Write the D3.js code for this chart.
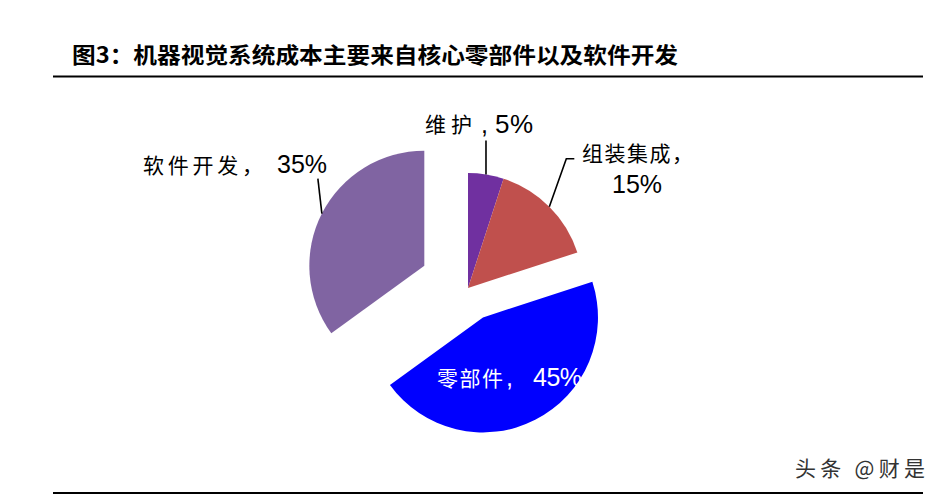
<!DOCTYPE html>
<html><head><meta charset="utf-8">
<script src="https://cdn.jsdelivr.net/npm/d3@7/dist/d3.min.js"></script>
<style>html,body{margin:0;padding:0;background:#fff;}svg{display:block;}</style>
</head><body>
<svg id="c" width="941" height="500"></svg>
<script>
const title = "图3：机器视觉系统成本主要来自核心零部件以及软件开发";
const categories = ["维护", "组装集成", "零部件", "软件开发"];
const values = [5, 15, 45, 35];
const valueLabels = ["5%", "15%", "45%", "35%"];
const colors = ["#7030A0", "#C0504D", "#0000FF", "#8064A2"];
const explode = [0, 0, 33, 49];
const watermark = "头条 @财是";

const svg = d3.select("#c");
const cx = 468, cy = 288, R = 115;
const cjk = "'Noto Sans CJK SC', sans-serif";
const lat = "'Liberation Sans', Arial, sans-serif";

// title + rules
svg.append("text").attr("x", 72).attr("y", 63)
  .attr("font-family", cjk).attr("font-weight", "bold").attr("font-size", 22)
  .attr("textLength", 606).attr("lengthAdjust", "spacingAndGlyphs")
  .attr("fill", "#000").text(title);
svg.append("line").attr("x1", 53).attr("x2", 923).attr("y1", 76.5).attr("y2", 76.5)
  .attr("stroke", "#000").attr("stroke-width", 2.2);
svg.append("line").attr("x1", 53).attr("x2", 923).attr("y1", 493).attr("y2", 493)
  .attr("stroke", "#000").attr("stroke-width", 2.2);

const pie = d3.pie().sort(null).value(d => d)(values);
const arc = d3.arc().innerRadius(0).outerRadius(R);
pie.forEach((p, i) => {
  const mid = (p.startAngle + p.endAngle) / 2;
  p.dx = Math.sin(mid) * explode[i];
  p.dy = -Math.cos(mid) * explode[i];
  p.ox = cx + p.dx + Math.sin(mid) * R;
  p.oy = cy + p.dy - Math.cos(mid) * R;
});

svg.append("g").selectAll("path").data(pie).join("path")
  .attr("transform", d => `translate(${cx + d.dx},${cy + d.dy})`)
  .attr("d", arc)
  .attr("fill", (d, i) => colors[i]);

// leader lines
const leaders = [
  [[0, 0], [0, -34]],
  [[0, 0], [17, -48], [25, -48]],
  null,
  [[0, 0], [-4, -35]]
];
leaders.forEach((L, i) => {
  if (!L) return;
  const p = pie[i];
  svg.append("path")
    .attr("d", d3.line()(L.map(q => [p.ox + q[0], p.oy + q[1]])))
    .attr("fill", "none").attr("stroke", "#000").attr("stroke-width", 1.6);
});

function txt(x, y, s, len, fill, size, fam) {
  const t = svg.append("text").attr("x", x).attr("y", y).attr("fill", fill)
    .attr("font-size", size).attr("font-family", fam).text(s);
  if (len) t.attr("textLength", len).attr("lengthAdjust", "spacing");
  return t;
}
// 维护
txt(425, 132, categories[0], 47, "#000", 21, cjk);
txt(481, 133, ",", null, "#000", 25, lat);
txt(495, 133, valueLabels[0], 38, "#000", 26, lat);
// 组装集成
txt(582, 161, categories[1] + "，", 111, "#000", 21, cjk);
txt(612, 193, valueLabels[1], 50, "#000", 25, lat);
// 零部件
txt(437, 386, categories[2], 66, "#fff", 21, cjk);
txt(506, 386, ",", null, "#fff", 25, lat);
txt(533, 386, valueLabels[2], 49, "#fff", 25, lat);
// 软件开发
txt(143, 173, categories[3] + "，", 120, "#000", 21, cjk);
txt(277, 173, valueLabels[3], 50, "#000", 25, lat);

svg.append("text").attr("x", 795).attr("y", 476)
  .attr("font-family", cjk).attr("font-size", 21).attr("fill", "#333")
  .attr("textLength", 130).attr("lengthAdjust", "spacing")
  .text(watermark);
</script>
</body></html>
